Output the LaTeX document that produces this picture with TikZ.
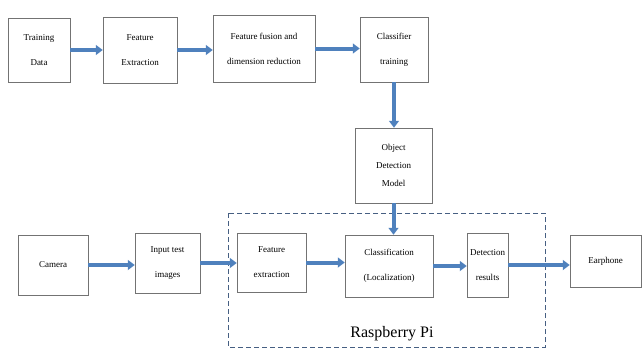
\documentclass[tikz,border=0pt]{standalone}
\usepackage{fontspec}
\setmainfont{Liberation Serif}
\usetikzlibrary{arrows.meta}
\definecolor{flowblue}{RGB}{79,129,189}
\definecolor{dashblue}{RGB}{70,95,130}

\begin{document}
\begin{tikzpicture}[x=1pt,y=-1pt,
  box/.style={draw=black!55, line width=0.5pt, align=center, inner sep=0pt, font=\fontsize{9}{25}\selectfont},
  flow/.style={draw=flowblue, line width=4pt, -{Triangle[length=7pt,width=10pt]}}]

\useasboundingbox (0,0) rectangle (643,349);

% training part
\node [box, minimum width=62pt, minimum height=64pt] (train) at (39,50) {Training\\Data};
\node [box, minimum width=74pt, minimum height=66pt] (featA) at (140,50) {Feature\\Extraction};
\node [box, minimum width=102pt, minimum height=67pt] (fusion) at (264,48.5) {Feature fusion and\\dimension reduction};
\node [box, minimum width=68pt, minimum height=65pt] (clstrain) at (394,49.5) {Classifier\\training};
\node [box, minimum width=77pt, minimum height=75pt, font=\fontsize{9}{18}\selectfont] (model) at (393.5,165.5) {Object\\Detection\\Model};

% detection part
\node [box, minimum width=70pt, minimum height=60pt] (camera) at (53,265) {Camera};
\node [box, minimum width=65pt, minimum height=60pt] (input) at (167.5,263) {Input test\\images};
\node [box, minimum width=69pt, minimum height=59pt] (featB) at (271.5,262.5) {Feature\\extraction};
\node [box, minimum width=88pt, minimum height=62pt] (classif) at (389,266) {Classification\\(Localization)};
\node [box, minimum width=41pt, minimum height=64pt] (result) at (487.5,265) {Detection\\results};
\node [box, minimum width=71pt, minimum height=52pt] (ear) at (605.5,261) {Earphone};

\draw [dashblue, line width=0.7pt, dash pattern=on 5pt off 3pt] (228,213) rectangle (545,347);
\node [font=\fontsize{16}{18}\selectfont] (rpi) at (392,334) {Raspberry Pi};

\draw [flow] (train.east) -- (train.east -| featA.west);
\draw [flow] (featA.east) -- (featA.east -| fusion.west);
\draw [flow] (fusion.east) -- (fusion.east -| clstrain.west);
\draw [flow] (clstrain.south) -- (clstrain.south |- model.north);
\draw [flow] (model.south) -- (model.south |- classif.north);

\draw [flow] (camera.east) -- (camera.east -| input.west);
\draw [flow] (input.east) -- (input.east -| featB.west);
\draw [flow] (featB.east) -- (featB.east -| classif.west);
\draw [flow] (classif.east) -- (classif.east -| result.west);
\draw [flow] (result.east) -- (result.east -| ear.west);

\end{tikzpicture}
\end{document}
